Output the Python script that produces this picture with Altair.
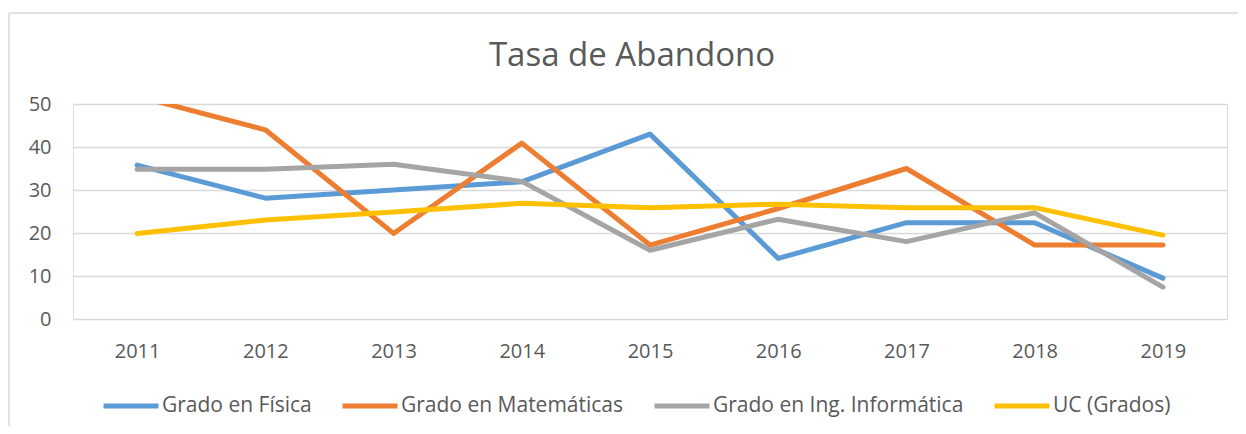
import altair as alt
import pandas as pd

years = ["2011", "2012", "2013", "2014", "2015", "2016", "2017", "2018", "2019"]
series_names = ["Grado en Física", "Grado en Matemáticas", "Grado en Ing. Informática", "UC (Grados)"]
fisica = [35.8, 28.1, 30.0, 31.9, 43.0, 14.1, 22.4, 22.4, 9.5]
matematicas = [51.8, 44.0, 19.9, 40.9, 17.2, 25.7, 35.0, 17.2, 17.2]
informatica = [34.8, 34.8, 36.0, 32.0, 16.0, 23.2, 18.0, 24.7, 7.4]
uc_grados = [19.9, 23.0, 24.9, 26.9, 25.9, 26.7, 25.9, 25.9, 19.5]
colors = ["#5B9BD5", "#ED7D31", "#A5A5A5", "#FFC000"]
y_ticks = [0, 10, 20, 30, 40, 50]

rows = []
for name, vals in zip(series_names, [fisica, matematicas, informatica, uc_grados]):
    for yr, v in zip(years, vals):
        rows.append({"year": yr, "series": name, "value": v})
df = pd.DataFrame(rows)

FONT = "Open Sans"
TXT = "#595959"
GRID = "#D9D9D9"

lines = alt.Chart(df).mark_line(
    strokeWidth=5, strokeCap="round", strokeJoin="round", clip=True
).encode(
    x=alt.X("year:O", sort=years,
            scale=alt.Scale(type="point", padding=0.5),
            axis=alt.Axis(title=None, labelAngle=0, domain=False, ticks=False, grid=False,
                          labelPadding=22, labelFontSize=20, labelFont=FONT, labelColor=TXT)),
    y=alt.Y("value:Q",
            scale=alt.Scale(domain=[0, 50], nice=False, zero=True),
            axis=alt.Axis(title=None, values=y_ticks, domain=False, ticks=False, grid=True,
                          gridColor=GRID, gridWidth=1.3, labelPadding=22, labelFontSize=20,
                          labelFont=FONT, labelColor=TXT)),
    color=alt.Color("series:N", sort=series_names,
                    scale=alt.Scale(domain=series_names, range=colors),
                    legend=alt.Legend(title=None, orient="none", direction="horizontal",
                                      legendX=28, legendY=272, symbolType="stroke",
                                      symbolSize=3025, symbolStrokeWidth=5,
                                      labelFontSize=21, labelFont=FONT, labelColor=TXT,
                                      labelLimit=0, labelOffset=1, columnPadding=20, padding=0)),
)

frame_df = pd.DataFrame({"k": [0]})
left_border = alt.Chart(frame_df).mark_rule(color=GRID, strokeWidth=1.5).encode(
    x=alt.value(-64), y=alt.value(-91), y2=alt.value(330))
top_border = alt.Chart(frame_df).mark_rule(color=GRID, strokeWidth=1.5).encode(
    x=alt.value(-64), x2=alt.value(1170), y=alt.value(-91))

chart = alt.layer(left_border, top_border, lines).properties(
    width=1154, height=215,
    title=alt.TitleParams("Tasa de Abandono", font=FONT, fontSize=33, fontWeight="normal",
                          color=TXT, anchor="middle", dx=-18, baseline="alphabetic", offset=-87),
    autosize=alt.AutoSizeParams(type="none"),
    padding={"left": 65, "top": 96, "right": 11, "bottom": 107},
).configure_view(stroke=None).configure(background="white")

chart.save("out.html", embed_options={"renderer": "svg", "actions": False})
